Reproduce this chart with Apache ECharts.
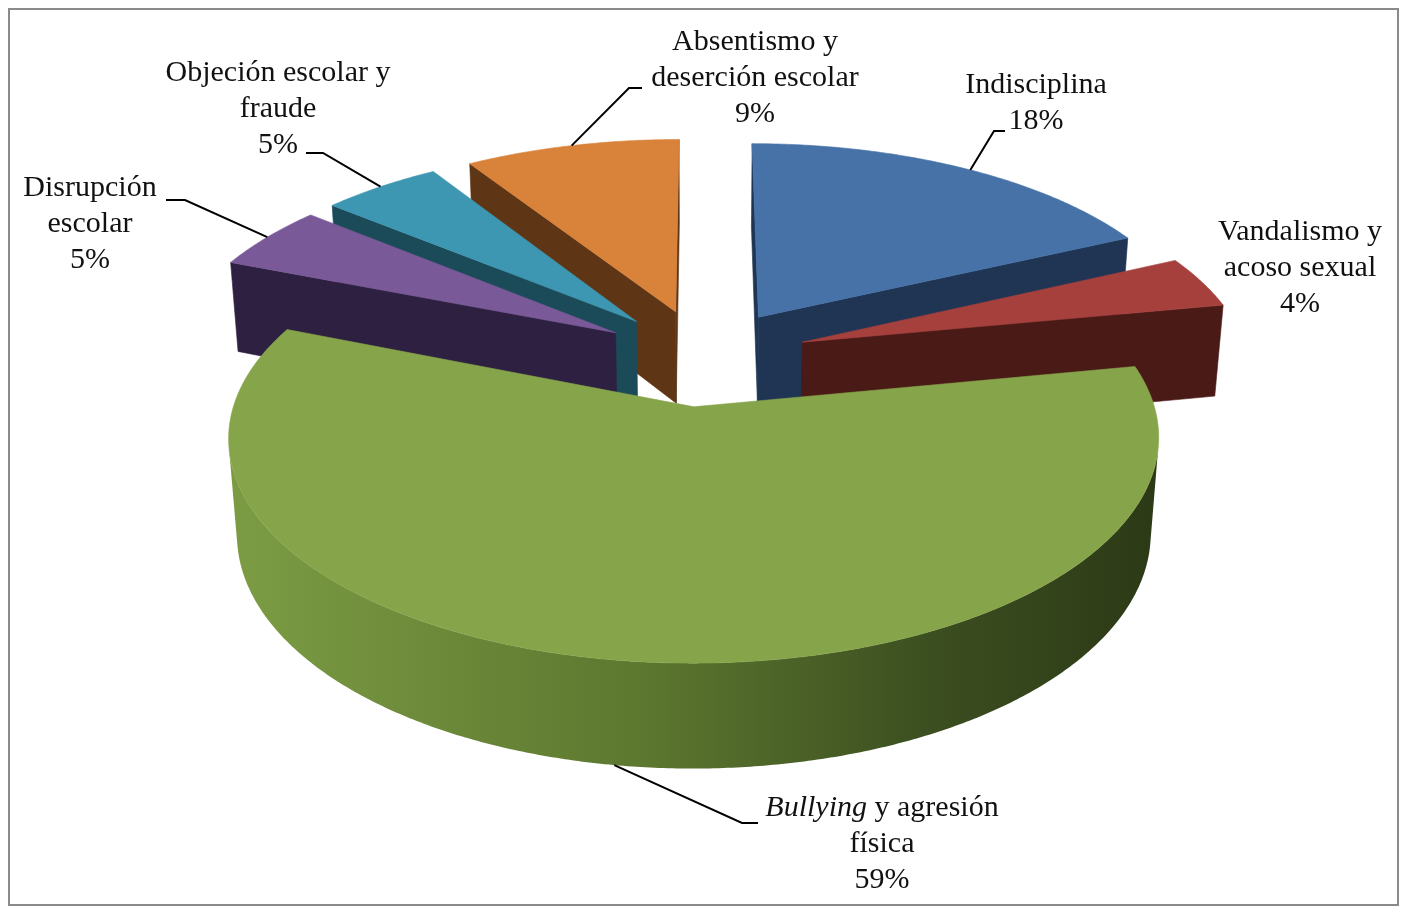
<!DOCTYPE html>
<html><head><meta charset="utf-8">
<script src="https://cdn.jsdelivr.net/npm/echarts@6/dist/echarts.min.js"></script>
<style>html,body{margin:0;padding:0;background:#fff}#c{width:1408px;height:907px}</style>
</head><body><div id="c"></div>
<script>
// ---- data ----
const categories = ['Indisciplina', 'Vandalismo y acoso sexual', 'Bullying y agresión física', 'Disrupción escolar', 'Objeción escolar y fraude', 'Absentismo y deserción escolar'];
const values = [18, 4, 59, 5, 5, 9];
const labelLines = [['Indisciplina'], ['Vandalismo y', 'acoso sexual'], ['{i|Bullying} y agresión', 'física'], ['Disrupción', 'escolar'], ['Objeción escolar y', 'fraude'], ['Absentismo y', 'deserción escolar']];

// ---- styles / layout ----
const topColors = ['#4672A8', '#A6403D', '#86A44A', '#7A5998', '#3E97B2', '#D9823A'];
const sideColors = ['#1F3553', '#4A1A17', '#4E6628', '#2E2040', '#1B4A58', '#5E3616'];
const wallStops = {
  2: [[0, '#7C9C44'], [0.45, '#5C772F'], [0.75, '#3C4F20'], [1, '#2C3916']]
};
const V = {cx: 704, cy: 357, S: 446, sinA: 0.464, cosA: 0.886, F: 6.56, explode: 0.234, H: 0.24};
const LABELS = [
  {x: 1036, top: 67, lead: [[994, 131], [1005, 131]], anchor: 'top', frac: 0.52},
  {x: 1300, top: 214, lead: null},
  {x: 882, top: 790, lead: [[742, 823], [758, 823]], anchor: 'bottom', frac: 0.515},
  {x: 90, top: 170, lead: [[185, 200], [166, 200]], anchor: 'top', frac: 0.5},
  {x: 278, top: 55, lead: [[323, 153], [306, 153]], anchor: 'top', frac: 0.5},
  {x: 755, top: 24, lead: [[629, 88], [642, 88]], anchor: 'top', frac: 0.5}
];
const FONT = '"Liberation Serif", "Times New Roman", serif';

function proj(u, v, h) {
  const yc = h * V.cosA + v * V.sinA;
  const d = v * V.cosA - h * V.sinA;
  const s = V.F / (V.F + d);
  return [V.cx + V.S * u * s, V.cy - V.S * yc * s];
}
const cam = [0, -V.F * V.cosA, V.F * V.sinA];

const total = values.reduce((a, b) => a + b, 0);
let acc = 0;
const slices = values.map((val, i) => {
  const a1 = acc / total * 2 * Math.PI;
  acc += val;
  const a2 = acc / total * 2 * Math.PI;
  const m = (a1 + a2) / 2;
  return {i, a1, a2, m, ou: V.explode * Math.sin(m), ov: V.explode * Math.cos(m)};
});

function visible(n, p) {
  return n[0] * (cam[0] - p[0]) + n[1] * (cam[1] - p[1]) + n[2] * (cam[2] - p[2]) > 0;
}

function renderItem(params, api) {
  const sl = slices[api.value(0)];
  const {ou, ov, a1, a2, i} = sl;
  const H = V.H;
  const children = [];
  const side = sideColors[i];
  const faces = [
    {t: a1, n: [-Math.cos(a1), Math.sin(a1), 0]},
    {t: a2, n: [Math.cos(a2), -Math.sin(a2), 0]}
  ];
  faces.forEach(f => {
    const du = Math.sin(f.t), dv = Math.cos(f.t);
    const pm = [ou + du * 0.5, ov + dv * 0.5, -H / 2];
    if (visible(f.n, pm)) {
      children.push({type: 'polygon', shape: {points: [
        proj(ou, ov, 0), proj(ou + du, ov + dv, 0), proj(ou + du, ov + dv, -H), proj(ou, ov, -H)
      ]}, style: {fill: side, stroke: side, lineWidth: 0.6}});
    }
  });
  const steps = Math.max(2, Math.ceil((a2 - a1) / (0.5 * Math.PI / 180)));
  const ts = [];
  for (let k = 0; k <= steps; k++) ts.push(a1 + (a2 - a1) * k / steps);
  let run = null;
  const runs = [];
  for (let k = 0; k < steps; k++) {
    const t = (ts[k] + ts[k + 1]) / 2;
    const vis = visible([Math.sin(t), Math.cos(t), 0], [ou + Math.sin(t), ov + Math.cos(t), -H / 2]);
    if (vis) { if (!run) { run = [ts[k]]; runs.push(run); } run.push(ts[k + 1]); }
    else run = null;
  }
  runs.forEach(r => {
    const top = r.map(t => proj(ou + Math.sin(t), ov + Math.cos(t), 0));
    const bot = r.map(t => proj(ou + Math.sin(t), ov + Math.cos(t), -H)).reverse();
    const stops = wallStops[i] || [[0, side], [1, side]];
    children.push({type: 'polygon', shape: {points: top.concat(bot)}, style: {
      fill: {type: 'linear', x: 0, y: 0, x2: 1, y2: 0, colorStops: stops.map(s => ({offset: s[0], color: s[1]}))},
      stroke: null
    }});
  });
  const topPts = [proj(ou, ov, 0)].concat(ts.map(t => proj(ou + Math.sin(t), ov + Math.cos(t), 0)));
  children.push({type: 'polygon', shape: {points: topPts}, style: {fill: topColors[i], stroke: topColors[i], lineWidth: 0.6}});
  return {type: 'group', children};
}

const order = slices.map(s => s.i).sort((a, b) => {
  const va = slices[a].ov + 0.5 * Math.cos(slices[a].m);
  const vb = slices[b].ov + 0.5 * Math.cos(slices[b].m);
  return vb - va;
});

const graphic = [{type: 'rect', shape: {x: 9, y: 9, width: 1389, height: 896}, style: {fill: null, stroke: '#8A8A8A', lineWidth: 2}, z: 0}];
slices.forEach(sl => {
  const L = LABELS[sl.i];
  const text = labelLines[sl.i].concat([values[sl.i] + '%']).join('\n');
  graphic.push({type: 'text', z: 10, style: {
    text, x: L.x, y: L.top, align: 'center', verticalAlign: 'top',
    fontSize: 30, fontFamily: FONT, lineHeight: 36, fill: '#111',
    rich: {i: {fontStyle: 'italic', fontSize: 30, fontFamily: FONT, lineHeight: 36, fill: '#111'}}
  }});
  if (L.lead) {
    const h = L.anchor === 'bottom' ? -V.H : 0;
    const t = sl.a1 + (sl.a2 - sl.a1) * L.frac;
    const a = proj(sl.ou + Math.sin(t), sl.ov + Math.cos(t), h);
    graphic.push({type: 'polyline', z: 10, shape: {points: [a].concat(L.lead)}, style: {stroke: '#000', lineWidth: 2, fill: null}});
  }
});

const chart = echarts.init(document.getElementById('c'), null, {renderer: 'canvas'});
chart.setOption({
  backgroundColor: '#fff',
  animation: false,
  graphic,
  series: [{
    type: 'custom', name: 'Conductas', coordinateSystem: 'none', silent: true,
    renderItem, data: order.map(i => ({value: [i], name: categories[i]}))
  }]
});
</script></body></html>
